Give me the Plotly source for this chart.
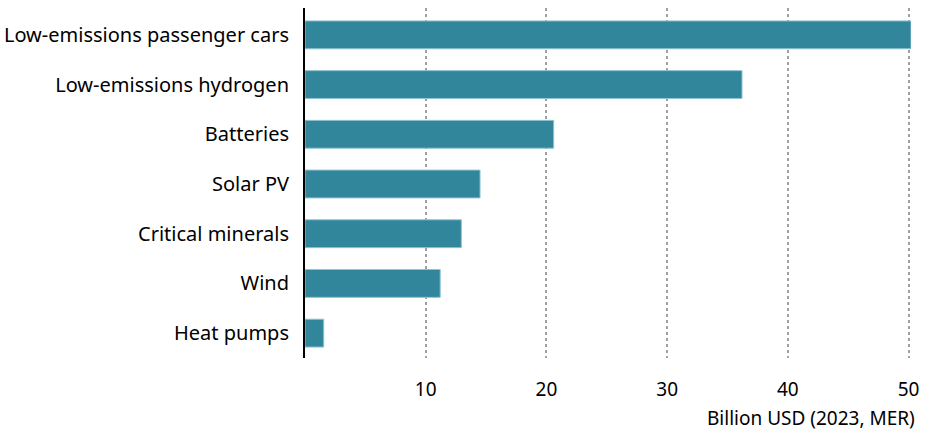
import plotly.graph_objects as go

categories = ["Heat pumps", "Wind", "Critical minerals", "Solar PV", "Batteries",
              "Low-emissions hydrogen", "Low-emissions passenger cars"]
values = [1.55, 11.2, 12.95, 14.5, 20.6, 36.2, 50.2]
tick_vals = [10, 20, 30, 40, 50]
tick_text = ["10", "20", "30", "40", "50"]
axis_title = "Billion USD (2023, MER)"

FONT = "Noto Sans, Open Sans, sans-serif"

fig = go.Figure(go.Bar(
    y=categories, x=values, orientation="h",
    marker=dict(color="#31869B", line=dict(color="#8FC3D1", width=1)),
))

fig.update_layout(
    width=929, height=431,
    margin=dict(l=305, r=18, t=8, b=73, autoexpand=False),
    paper_bgcolor="white", plot_bgcolor="white",
    bargap=0.44,
    showlegend=False,
    font=dict(family=FONT, size=20, color="black"),
    xaxis=dict(
        range=[0, 50.2], tickvals=tick_vals, ticktext=tick_text,
        showgrid=True, gridcolor="#A0A0A0", griddash="dot", gridwidth=2,
        zeroline=False, showline=False, ticks="",
        ticklabelstandoff=18, automargin=False,
        tickfont=dict(family=FONT, size=19, color="black"),
    ),
    yaxis=dict(
        range=[-0.5, 6.54], showgrid=False, zeroline=False,
        showline=True, linecolor="black", linewidth=2,
        ticks="", ticklabelstandoff=10, automargin=False,
        tickfont=dict(family=FONT, size=20, color="black"),
    ),
    annotations=[dict(
        text=axis_title, xref="paper", yref="paper", x=1.01, y=0,
        xanchor="right", yanchor="bottom", yshift=-75, showarrow=False,
        font=dict(family=FONT, size=19, color="black"),
    )],
)

fig.write_html(
    "out.html",
    config={"displayModeBar": False},
    post_script="document.body.style.margin='0';document.body.style.overflow='hidden';",
)
